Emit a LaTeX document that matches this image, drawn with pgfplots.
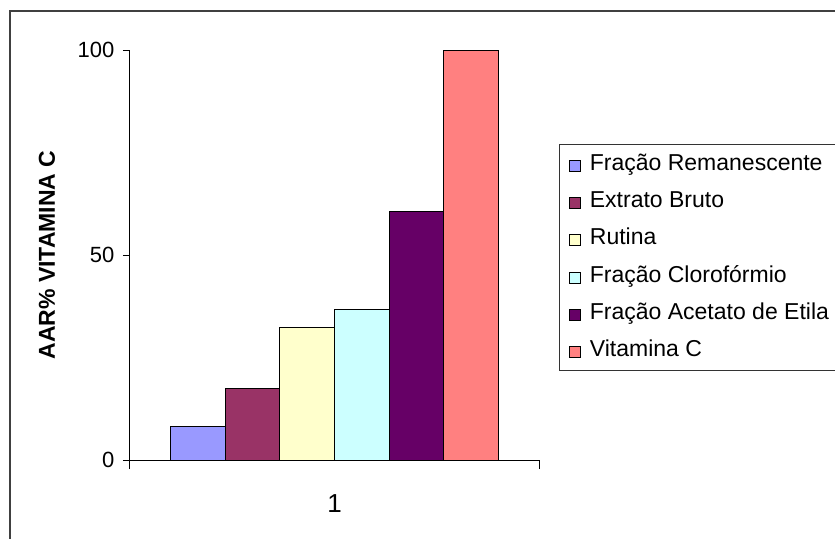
\documentclass[border=0pt]{standalone}
\usepackage{fontspec}
\setmainfont{Liberation Sans}
\usepackage{pgfplots}
\pgfplotsset{compat=1.18}
\definecolor{c1}{HTML}{9999FF}
\definecolor{c2}{HTML}{993366}
\definecolor{c3}{HTML}{FFFFCC}
\definecolor{c4}{HTML}{CCFFFF}
\definecolor{c5}{HTML}{660066}
\definecolor{c6}{HTML}{FF8080}
\begin{document}
\begin{tikzpicture}
\useasboundingbox (0pt,0pt) rectangle (417.5pt,269pt);
\fill[white] (0pt,0pt) rectangle (417.5pt,269pt);
\draw[black!75, line width=0.75pt] (5pt,-100pt) -- (5pt,263.5pt) -- (500pt,263.5pt);
\begin{axis}[
  at={(65pt,39pt)}, anchor=south west,
  scale only axis, width=204.5pt, height=205pt,
  xmin=0, xmax=1, ymin=0, ymax=100,
  axis x line*=bottom, axis y line*=left,
  axis line style={black, line width=0.5pt},
  ybar=0pt, bar width=27.33pt,
  ytick={0,50,100},
  tick align=outside,
  major tick length=3.5pt,
  tick style={black, line width=0.5pt},
  xtick={0.5}, xticklabels={1},
  xtick style={draw=none},
  extra x ticks={0,1}, extra x tick labels={},
  extra x tick style={xtick style={draw=black}, major tick length=4.5pt, tick align=outside},
  /pgf/number format/assume math mode=true,
  yticklabel style={font=\fontsize{11}{13}\selectfont, xshift=-0.8pt},
  xticklabel style={font=\fontsize{13}{15}\selectfont, yshift=-10.4pt},
  ylabel={AAR\% VITAMINA C},
  every axis y label/.style={at={(axis description cs:-0.203,0.5)}, rotate=90, anchor=center, font=\bfseries\fontsize{11.5}{13}\selectfont},
  legend style={at={(1.0489,0.771)}, anchor=north west, draw=black!80, line width=0.5pt,
    inner xsep=4.5pt, inner ysep=4.5pt, row sep=8pt,
    font=\fontsize{11.5}{13}\selectfont,
    nodes={inner sep=0pt, text height=8.3pt, text depth=2.4pt, anchor=base west},
    /tikz/every odd column/.append style={column sep=4.7pt}},
  legend cell align=left,
  legend image code/.code={\draw[#1, line width=0.5pt] (0pt,-0.5pt) rectangle (5.5pt,5pt);},
]
\addplot[fill=c1, draw=black, line width=0.5pt] coordinates {(0.5,8.1)};
\addplot[fill=c2, draw=black, line width=0.5pt] coordinates {(0.5,17.5)};
\addplot[fill=c3, draw=black, line width=0.5pt] coordinates {(0.5,32.4)};
\addplot[fill=c4, draw=black, line width=0.5pt] coordinates {(0.5,36.8)};
\addplot[fill=c5, draw=black, line width=0.5pt] coordinates {(0.5,60.5)};
\addplot[fill=c6, draw=black, line width=0.5pt] coordinates {(0.5,100)};
\legend{Fração Remanescente, Extrato Bruto, Rutina, Fração Clorofórmio, Fração Acetato de Etila, Vitamina C}
\end{axis}
\end{tikzpicture}
\end{document}
